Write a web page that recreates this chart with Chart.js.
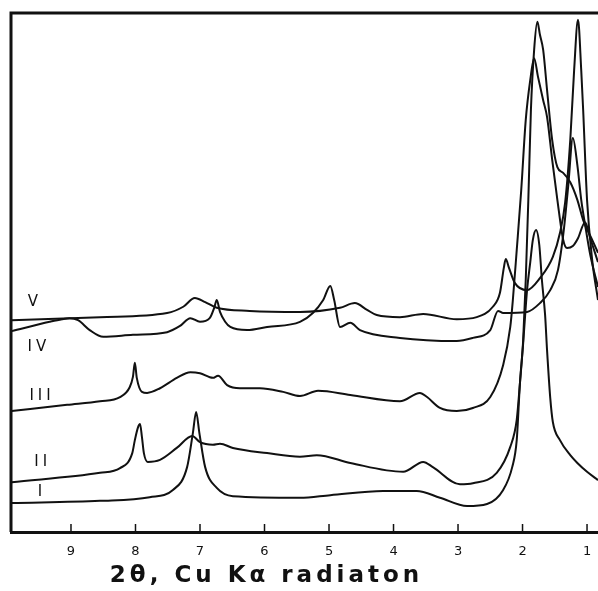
<!DOCTYPE html>
<html>
<head>
<meta charset="utf-8">
<script src="https://cdn.jsdelivr.net/npm/chart.js@4.4.1/dist/chart.umd.min.js"></script>
<style>
  html, body { margin: 0; padding: 0; background: #fff; }
  #wrap { width: 598px; height: 591px; position: relative; }
</style>
</head>
<body>
<div id="wrap"><canvas id="xrd"></canvas></div>
<script>
// 2θ positions of the labelled ticks, and the axis caption
const xTicks = [9, 8, 7, 6, 5, 4, 3, 2, 1];
const xTitle = '2θ, Cu Kα radiaton';
const seriesNames = ['I', 'II', 'III', 'IV', 'V'];

// traces: [2θ, relative intensity]
const curveI = [
  [9.92, 5.6], [8.55, 6.0], [7.78, 6.7], [7.42, 8.1], [7.20, 12.5], [7.11, 19.1],
  [7.06, 23.1], [7.01, 19.1], [6.92, 12.5], [6.74, 8.5], [6.49, 6.9], [5.45, 6.6],
  [4.98, 7.1], [4.16, 7.9], [3.64, 7.9], [3.28, 6.6], [2.86, 5.0], [2.55, 5.4],
  [2.30, 8.1], [2.16, 12.5], [2.09, 17.7], [2.04, 28.7], [1.99, 36.4], [1.93, 46.6],
  [1.88, 52.0], [1.84, 56.3], [1.79, 58.2], [1.74, 55.3], [1.70, 48.6], [1.65, 41.8],
  [1.62, 35.1], [1.57, 25.8], [1.53, 21.2], [1.42, 17.7], [1.26, 14.8], [1.15, 13.3],
  [1.00, 11.6], [0.83, 10.0]
];
const curveII = [
  [9.92, 9.6], [8.55, 11.4], [8.24, 12.3], [8.05, 15.2], [8.01, 17.7], [7.96, 20.2],
  [7.93, 20.8], [7.90, 18.3], [7.87, 15.2], [7.81, 13.5], [7.62, 13.9], [7.36, 16.2],
  [7.12, 18.5], [7.00, 17.3], [6.80, 16.8], [6.69, 17.0], [6.49, 16.2], [5.96, 15.2],
  [5.45, 14.5], [5.19, 14.8], [4.67, 13.3], [3.85, 11.6], [3.54, 13.5], [3.39, 12.5],
  [2.97, 9.2], [2.77, 9.4], [2.40, 11.4], [2.19, 16.4], [2.09, 21.6], [2.04, 28.7],
  [1.99, 37.0], [1.95, 48.6], [1.91, 64.0], [1.87, 81.3], [1.82, 92.9], [1.77, 98.3],
  [1.73, 95.8], [1.68, 92.9], [1.62, 85.2], [1.54, 75.5], [1.46, 70.3], [1.37, 69.2],
  [1.26, 67.4], [1.15, 64.0], [1.06, 60.1], [0.92, 56.3], [0.83, 53.8]
];
const curveIII = [
  [9.92, 23.3], [9.06, 24.5], [8.55, 25.2], [8.24, 26.0], [8.09, 27.9], [8.04, 29.9],
  [8.01, 32.6], [7.98, 29.7], [7.90, 27.0], [7.82, 26.8], [7.62, 27.7], [7.36, 29.7],
  [7.15, 30.8], [7.00, 30.6], [6.80, 29.7], [6.72, 30.1], [6.58, 28.3], [6.38, 27.7],
  [6.07, 27.7], [5.71, 27.0], [5.45, 26.2], [5.17, 27.2], [4.67, 26.4], [3.90, 25.2],
  [3.59, 26.8], [3.48, 26.0], [3.28, 23.9], [3.02, 23.3], [2.77, 23.9], [2.50, 26.0],
  [2.30, 32.2], [2.19, 39.5], [2.15, 44.7], [2.09, 54.3], [2.02, 65.9], [1.95, 79.4],
  [1.88, 87.1], [1.82, 91.3], [1.76, 87.7], [1.68, 83.2], [1.62, 80.0], [1.54, 71.7],
  [1.46, 64.0], [1.37, 56.3], [1.31, 54.7], [1.22, 55.1], [1.14, 56.6], [1.03, 59.7],
  [0.95, 56.6], [0.83, 52.0]
];
const curveIV = [
  [9.92, 38.7], [9.33, 40.5], [9.14, 41.0], [9.02, 41.2], [8.89, 40.8], [8.71, 38.9],
  [8.50, 37.6], [8.04, 38.0], [7.51, 38.5], [7.31, 39.7], [7.15, 41.2], [7.00, 40.5],
  [6.85, 41.2], [6.78, 43.2], [6.74, 44.7], [6.69, 42.4], [6.61, 40.5], [6.53, 39.5],
  [6.27, 38.9], [5.96, 39.5], [5.45, 40.5], [5.25, 42.2], [5.09, 44.7], [4.98, 47.4],
  [4.92, 44.7], [4.83, 39.5], [4.67, 40.3], [4.52, 38.9], [3.90, 37.4], [3.02, 36.8],
  [2.77, 37.4], [2.50, 38.9], [2.38, 42.6], [2.30, 42.2], [1.93, 42.4], [1.73, 44.1],
  [1.57, 46.6], [1.45, 50.5], [1.36, 58.2], [1.29, 66.9], [1.22, 75.9], [1.15, 70.7],
  [1.09, 64.0], [1.03, 59.2], [0.95, 53.4], [0.83, 47.2]
];
const curveV = [
  [9.92, 40.8], [8.55, 41.4], [7.51, 42.2], [7.26, 43.4], [7.08, 45.1], [6.92, 44.3],
  [6.74, 43.2], [6.23, 42.6], [5.45, 42.4], [4.83, 43.2], [4.60, 44.1], [4.41, 42.8],
  [4.26, 41.8], [3.90, 41.4], [3.54, 42.0], [3.02, 41.0], [2.71, 41.4], [2.46, 43.4],
  [2.35, 46.1], [2.29, 50.9], [2.26, 52.6], [2.21, 50.9], [2.12, 48.0], [1.93, 46.6],
  [1.73, 48.9], [1.53, 53.0], [1.42, 57.6], [1.34, 63.4], [1.26, 75.5], [1.20, 89.0],
  [1.14, 98.7], [1.09, 89.0], [1.06, 81.3], [1.00, 64.0], [0.92, 52.4], [0.83, 44.7]
];
const curves = [curveI, curveII, curveIII, curveIV, curveV];

// frame (left + top), inward tick marks, curve names and the axis caption
const decorations = {
  id: 'decorations',
  afterDraw(chart) {
    const { ctx, chartArea: a, scales: { x, y } } = chart;
    ctx.save();
    ctx.strokeStyle = '#111';
    ctx.lineWidth = 3;
    ctx.beginPath();
    ctx.moveTo(a.left, a.bottom);
    ctx.lineTo(a.left, a.top);
    ctx.lineTo(a.right, a.top);
    ctx.stroke();

    ctx.lineWidth = 1.5;
    x.ticks.forEach(t => {
      const px = x.getPixelForValue(t.value);
      ctx.beginPath();
      ctx.moveTo(px, a.bottom);
      ctx.lineTo(px, a.bottom - 8);
      ctx.stroke();
    });

    // where each name sits, in data units
    const spots = [[9.48, 7.7], [9.47, 13.5], [9.48, 26.2], [9.53, 35.6], [9.59, 44.3]];
    ctx.fillStyle = '#111';
    ctx.font = '15px "DejaVu Sans"';
    ctx.textAlign = 'center';
    ctx.textBaseline = 'middle';
    ctx.letterSpacing = '4px';
    seriesNames.forEach((n, i) => {
      ctx.fillText(n, x.getPixelForValue(spots[i][0]) + 2, y.getPixelForValue(spots[i][1]));
    });

    ctx.font = 'bold 23px "DejaVu Sans"';
    ctx.letterSpacing = '4px';
    ctx.fillText(xTitle, x.getPixelForValue(6.0) + 2, 576);
    ctx.restore();
  }
};

new Chart(document.getElementById('xrd'), {
  type: 'line',
  data: {
    datasets: curves.map((c, i) => ({
      label: seriesNames[i],
      data: c,
      borderColor: '#111',
      borderWidth: 2,
      pointRadius: 0,
      fill: false,
      cubicInterpolationMode: 'monotone'
    }))
  },
  options: {
    responsive: true,
    maintainAspectRatio: false,
    animation: false,
    layout: { autoPadding: false, padding: { left: 11, top: 13, right: 0, bottom: 0 } },
    plugins: { legend: { display: false }, tooltip: { enabled: false } },
    scales: {
      x: {
        type: 'linear',
        reverse: true,
        min: 0.83,
        max: 9.93,
        afterBuildTicks: s => { s.ticks = xTicks.map(v => ({ value: v })); },
        afterFit: s => { s.height = 59; s.paddingLeft = 0; s.paddingRight = 0; },
        grid: { display: false, drawTicks: false },
        border: { display: true, width: 3, color: '#111' },
        ticks: {
          color: '#111',
          padding: 12,
          maxRotation: 0,
          font: { family: 'DejaVu Sans', size: 13 }
        }
      },
      y: { display: false, min: 0, max: 100 }
    }
  },
  plugins: [decorations]
});
</script>
</body>
</html>
